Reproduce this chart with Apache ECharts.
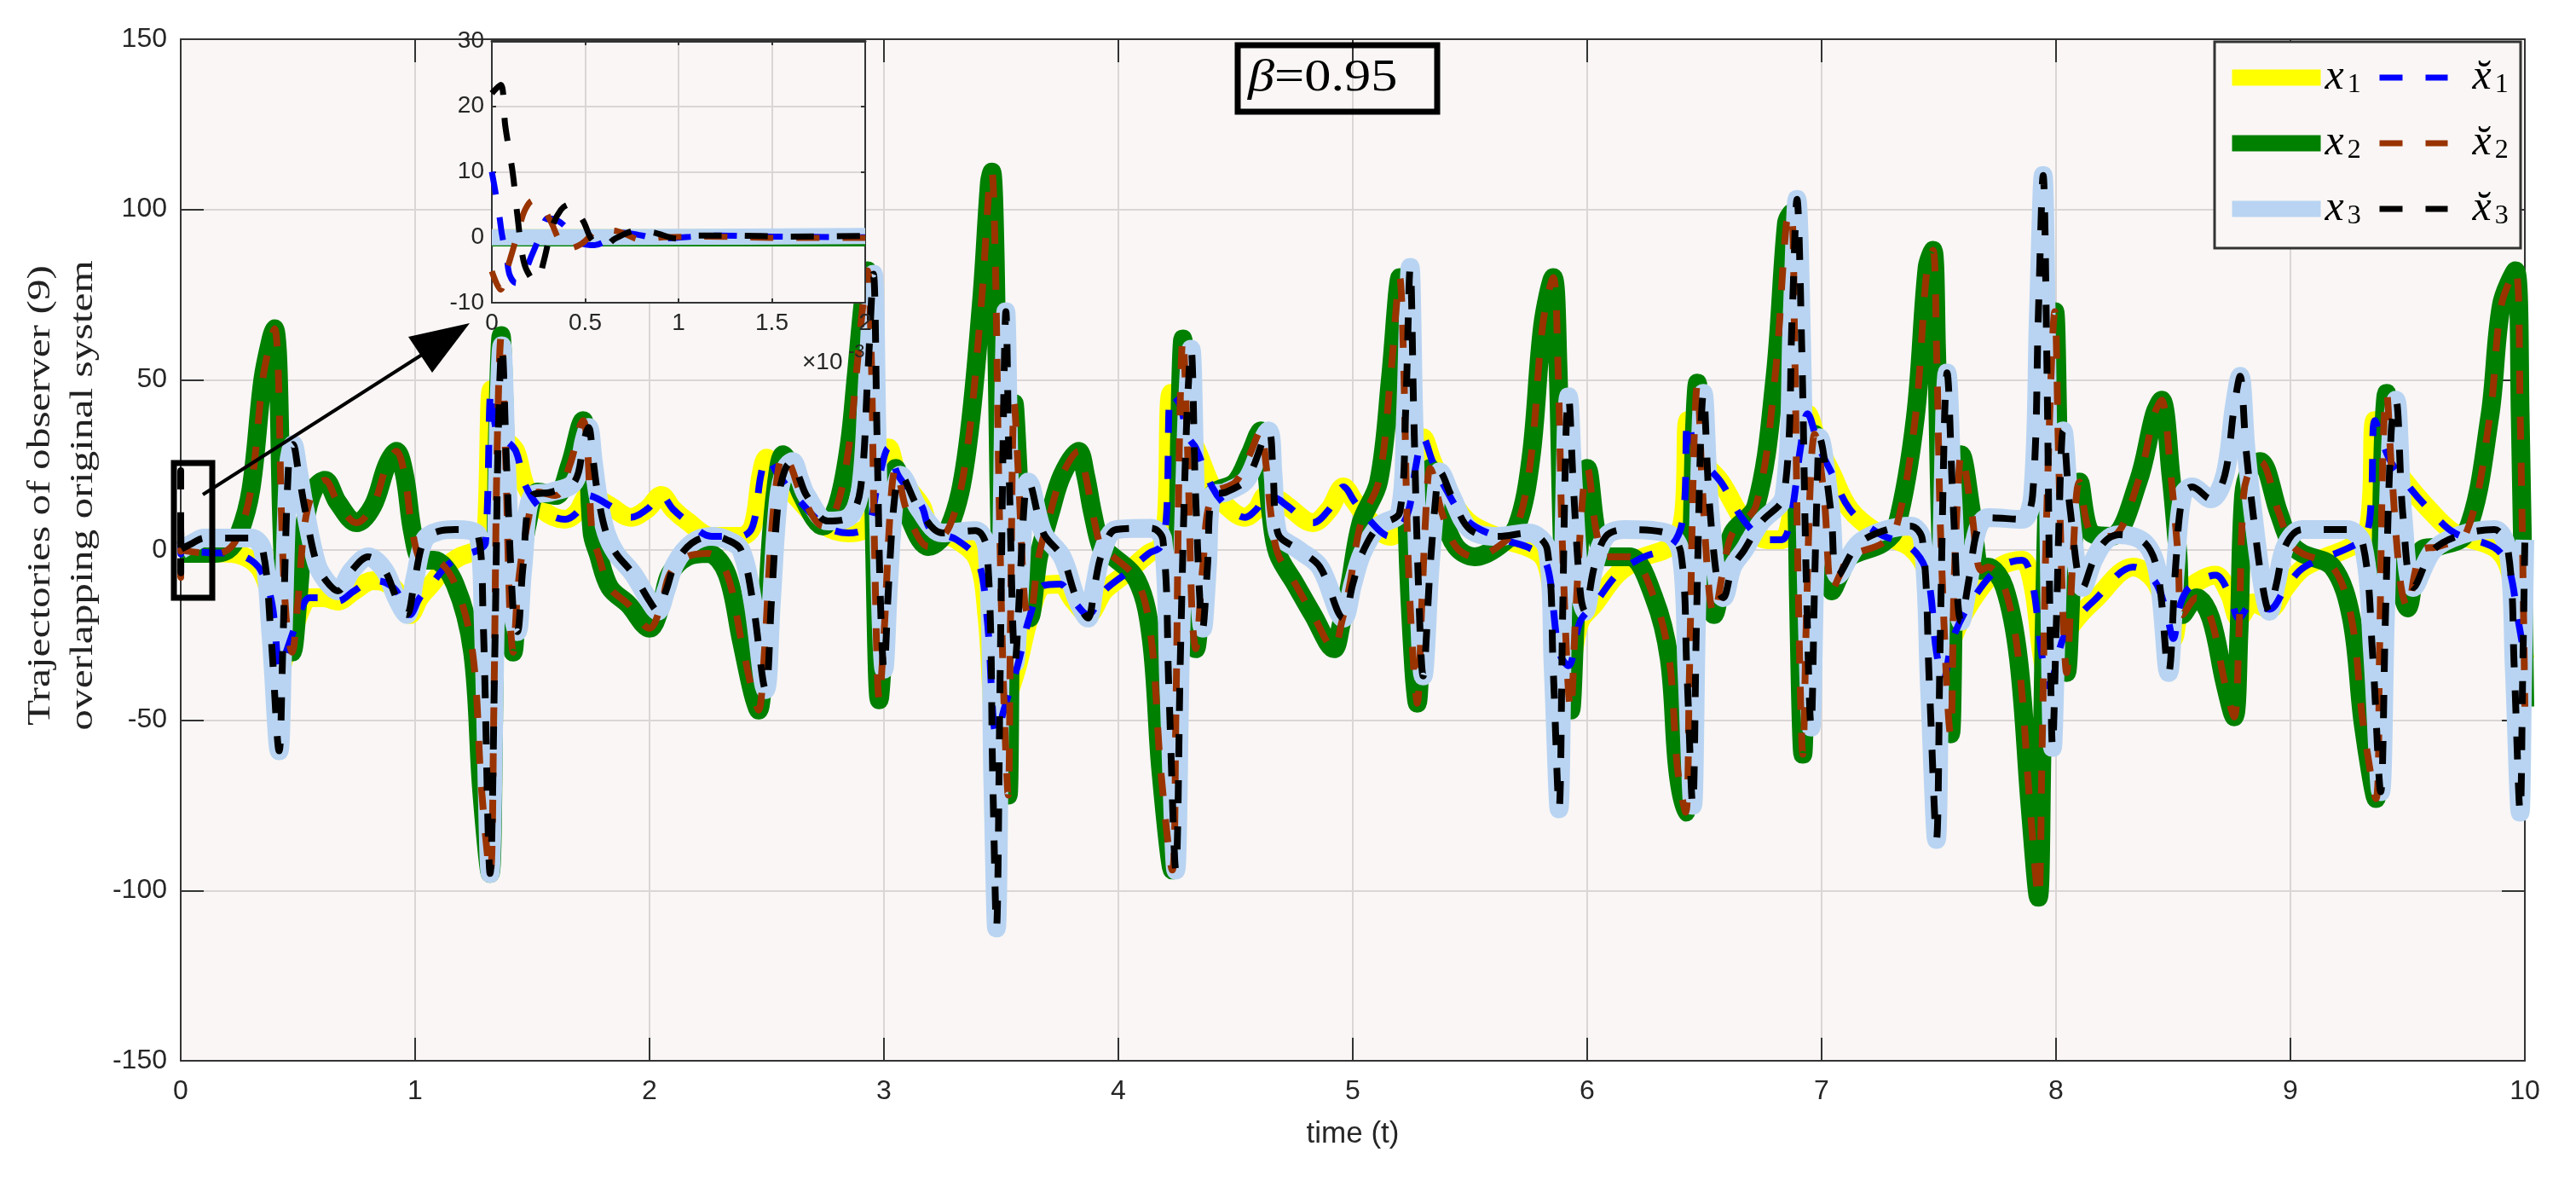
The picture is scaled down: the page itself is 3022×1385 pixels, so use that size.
<!DOCTYPE html>
<html>
<head>
<meta charset="UTF-8">
<title>Trajectories of observer</title>
<script src="https://cdn.jsdelivr.net/npm/echarts@6/dist/echarts.min.js"></script>
<style>
  html, body { margin: 0; padding: 0; background: #fff; }
  #main { width: 3022px; height: 1385px; }
</style>
</head>
<body>
<div id="main"></div>
<script>
// state trajectories, [t, value]
const x1 = [[0,-1],[.12,-.8],[.22,-1],[.3,-3],[.35,-7],[.39,-16],[.425,-35],[.45,-30],[.48,-24],[.51,-18],[.55,-14],[.61,-14],[.67,-15],[.74,-12],[.82,-9],[.87,-9.5],[.92,-12],[.977,-19],[1.02,-14],[1.07,-10],[1.13,-5],[1.19,-2],[1.27,0],[1.3,2],[1.325,47],[1.35,34],[1.39,32],[1.43,29],[1.47,19],[1.54,12],[1.64,9],[1.69,11],[1.74,16],[1.78,15],[1.83,13],[1.92,9.6],[1.99,12],[2.05,16],[2.1,12],[2.16,8.5],[2.265,4],[2.39,4],[2.44,7],[2.475,22],[2.5,27],[2.55,22],[2.62,16],[2.75,7],[2.85,5],[2.93,7],[2.975,20],[3.02,30],[3.06,22],[3.16,13],[3.2,6],[3.31,3],[3.4,-3],[3.44,-20],[3.48,-54],[3.52,-45],[3.57,-34],[3.62,-20],[3.68,-10.5],[3.75,-10],[3.81,-15],[3.87,-19],[3.94,-12],[4.03,-7],[4.13,-1],[4.18,1],[4.205,10],[4.225,46],[4.26,43],[4.3,33],[4.33,30],[4.4,18.5],[4.46,13],[4.54,9.6],[4.59,12],[4.63,16],[4.68,15],[4.72,13],[4.83,8],[4.9,12],[4.96,18.5],[5.01,14],[5.06,9.6],[5.16,4],[5.2,6],[5.24,12],[5.27,25],[5.3,33],[5.34,26],[5.38,20],[5.49,8.5],[5.65,3],[5.75,.7],[5.81,-2],[5.84,-8],[5.88,-30],[5.92,-34],[5.97,-21],[6.03,-16],[6.13,-7],[6.23,-2.4],[6.36,1.4],[6.41,10],[6.43,38],[6.47,28],[6.57,20],[6.67,8.5],[6.77,3],[6.83,3],[6.87,10],[6.91,30],[6.94,40],[6.99,30],[7.04,23],[7.12,12],[7.24,5],[7.38,.7],[7.45,-7],[7.49,-30],[7.52,-38],[7.56,-26],[7.64,-15],[7.76,-5],[7.855,-3],[7.9,-10],[7.94,-31],[7.97,-40],[8.03,-26],[8.09,-20],[8.16,-15],[8.33,-5],[8.42,-9],[8.47,-18],[8.5,-26],[8.53,-16],[8.57,-11],[8.68,-7.4],[8.74,-13],[8.78,-20],[8.84,-15.5],[8.91,-17.4],[8.98,-11],[9.06,-5],[9.25,.7],[9.32,4],[9.345,15],[9.36,38],[9.42,27],[9.49,20],[9.59,12],[9.7,5],[9.87,.7],[9.93,-5],[9.97,-20],[10,-32]]

const x2 = [[0,-1],[.12,-1],[.2,0],[.25,5],[.3,18],[.35,50],[.385,62],[.4,65],[.415,55],[.43,10],[.45,-20],[.475,-30],[.5,-15],[.53,8],[.57,18],[.615,20.5],[.67,14],[.75,8],[.82,13],[.88,25],[.92,29],[.955,22],[.99,5],[1.03,-3],[1.08,-3],[1.17,-10],[1.245,-30],[1.283,-70],[1.32,-95],[1.335,-50],[1.35,30],[1.367,63],[1.385,30],[1.405,-20],[1.418,-30],[1.44,-10],[1.48,8],[1.525,17],[1.6,16],[1.66,25],[1.717,38],[1.735,30],[1.755,5],[1.78,-1],[1.83,-11],[1.91,-16],[2,-23],[2.05,-16],[2.087,-7],[2.16,-2],[2.25,-1],[2.33,-7],[2.39,-26],[2.44,-42],[2.465,-47],[2.49,-30],[2.52,5],[2.55,24],[2.57,28],[2.6,25],[2.65,16],[2.74,7],[2.8,13],[2.85,30],[2.88,50],[2.91,72],[2.93,82],[2.945,60],[2.96,0],[2.98,-44],[3,-25],[3.03,15],[3.05,24],[3.1,11],[3.19,1],[3.28,7],[3.35,27],[3.415,72],[3.45,108],[3.46,111],[3.475,85],[3.49,20],[3.51,-40],[3.53,-72],[3.54,-20],[3.556,43],[3.575,20],[3.6,-15],[3.62,-20],[3.66,-2],[3.71,11],[3.76,22],[3.83,29],[3.86,22],[3.89,11],[3.93,0],[3.96,-1],[4.08,-9],[4.14,-26],[4.18,-64],[4.23,-94],[4.245,-50],[4.26,30],[4.275,62],[4.295,30],[4.315,-20],[4.33,-29],[4.36,-5],[4.4,16],[4.5,20],[4.56,28],[4.607,35],[4.63,25],[4.65,11],[4.68,-1],[4.755,-10],[4.83,-19],[4.92,-29],[4.95,-22],[4.985,-11],[5.035,8],[5.11,20],[5.16,50],[5.19,75],[5.2,80],[5.215,60],[5.235,0],[5.26,-35],[5.275,-45],[5.295,-15],[5.315,15],[5.33,24],[5.38,11],[5.44,1],[5.52,-2],[5.62,1],[5.7,7],[5.76,27],[5.81,66],[5.855,80],[5.875,55],[5.895,0],[5.93,-47],[5.95,-20],[5.98,15],[6,24],[6.04,5],[6.08,-2],[6.18,-2],[6.285,-14],[6.35,-32],[6.385,-64],[6.42,-77],[6.435,-40],[6.455,30],[6.47,49],[6.49,20],[6.52,-12],[6.54,-19],[6.58,-6],[6.62,5],[6.72,13],[6.8,50],[6.85,96],[6.87,99],[6.885,60],[6.9,-10],[6.92,-60],[6.935,-20],[6.955,25],[6.97,34],[7.01,16],[7.045,-12],[7.08,-7],[7.12,-2],[7.26,2],[7.32,7],[7.4,39],[7.45,83],[7.475,88],[7.49,60],[7.51,0],[7.55,-54],[7.565,-10],[7.585,22],[7.595,28],[7.64,11],[7.68,-6],[7.71,-5],[7.78,-11],[7.84,-32],[7.89,-76],[7.925,-102],[7.94,-60],[7.96,10],[7.995,70],[8.01,30],[8.03,-20],[8.045,-36],[8.07,-5],[8.1,20],[8.15,5],[8.235,4],[8.35,20],[8.42,40],[8.45,44],[8.49,22],[8.52,-1],[8.54,-19],[8.6,-14],[8.66,-20],[8.72,-39],[8.76,-49],[8.78,-25],[8.8,16],[8.83,24],[8.87,26],[8.95,11],[9,2],[9.05,-1],[9.18,-5],[9.26,-20],[9.31,-51],[9.365,-73],[9.38,-30],[9.395,30],[9.41,46],[9.43,25],[9.47,-10],[9.5,-17],[9.53,-7],[9.56,0],[9.63,1],[9.75,5],[9.85,39],[9.9,72],[9.96,82],[9.98,40],[10,-46]]

const x3 = [[0,0],[.05,2],[.1,3.5],[.3,3.5],[.35,0],[.385,-25],[.42,-59],[.435,-30],[.46,25],[.48,31],[.5,24],[.53,12],[.58,-4],[.62,-9],[.67,-12],[.73,-6],[.8,-2],[.87,-6],[.92,-14],[.964,-19],[1,-8],[1.04,3],[1.1,5.5],[1.17,6],[1.27,4],[1.29,-20],[1.32,-95],[1.34,-30],[1.355,35],[1.37,60],[1.39,25],[1.42,-20],[1.436,-24],[1.46,-5],[1.5,16],[1.58,17],[1.68,20],[1.72,32],[1.74,36],[1.76,26],[1.78,16],[1.815,5],[1.857,-1],[1.93,-7],[2,-15],[2.035,-18],[2.07,-12],[2.11,-4],[2.18,2],[2.265,4],[2.33,3],[2.39,0],[2.44,-15],[2.495,-41],[2.52,-15],[2.55,15],[2.58,24],[2.61,26],[2.64,21],[2.67,16],[2.76,8.5],[2.85,9.6],[2.9,18],[2.93,50],[2.955,81],[2.97,35],[2.985,-15],[3,-35],[3.02,-10],[3.045,15],[3.07,22],[3.15,12],[3.25,5],[3.39,5.7],[3.44,0],[3.465,-70],[3.48,-111],[3.495,-40],[3.51,40],[3.52,70],[3.535,20],[3.56,-33],[3.58,-10],[3.6,15],[3.615,20],[3.68,5],[3.76,-2],[3.82,-14],[3.87,-20],[3.9,-10],[3.93,-1],[3.99,6],[4.14,6.4],[4.19,3],[4.215,-40],[4.245,-94],[4.265,-30],[4.29,35],[4.31,59],[4.33,15],[4.36,-23],[4.38,-5],[4.4,16],[4.46,17],[4.55,21],[4.64,35],[4.66,22],[4.68,5],[4.77,0],[4.86,-5],[4.96,-20],[5,-10],[5.04,-1],[5.11,7],[5.2,11],[5.225,40],[5.245,83],[5.26,40],[5.28,-10],[5.3,-37],[5.33,-5],[5.36,20],[5.37,23],[5.42,16],[5.5,6],[5.62,4],[5.75,5],[5.83,0],[5.855,-35],[5.88,-76],[5.895,-20],[5.91,35],[5.92,45],[5.94,20],[5.97,-12],[5.99,-18],[6.03,-5],[6.08,4],[6.16,6],[6.34,5],[6.4,-1],[6.425,-35],[6.45,-75],[6.465,-25],[6.485,35],[6.495,46],[6.52,15],[6.56,-12],[6.58,-14],[6.62,-5],[6.67,0],[6.74,8],[6.84,16],[6.875,70],[6.895,103],[6.915,60],[6.935,-10],[6.955,-52],[6.97,-10],[6.985,28],[6.99,33],[7.04,11],[7.07,-7.4],[7.17,2.6],[7.38,7],[7.43,3],[7.46,-40],[7.49,-85],[7.505,-30],[7.525,40],[7.535,52],[7.56,15],[7.595,-21],[7.63,-8],[7.665,6],[7.71,9.5],[7.855,9],[7.9,16],[7.925,70],[7.945,110],[7.96,60],[7.975,-25],[7.985,-58],[8,-25],[8.02,25],[8.03,35],[8.06,12],[8.115,-11],[8.16,-3],[8.21,2.6],[8.27,4.5],[8.38,2],[8.435,-7],[8.48,-36],[8.51,-5],[8.54,16],[8.58,18.5],[8.66,15],[8.72,22],[8.76,42],[8.785,51],[8.81,30],[8.84,11],[8.88,-10],[8.91,-18],[8.94,-10],[8.98,1.4],[9.05,6],[9.24,6],[9.31,1.4],[9.35,-30],[9.385,-71],[9.405,-20],[9.43,35],[9.45,44],[9.48,10],[9.525,-11],[9.61,0],[9.73,4.5],[9.87,6],[9.93,-1],[9.955,-35],[9.98,-77],[9.99,-40],[10,3]]

// observer start-up transient, t in units of 1e-3
const hat1Start = [[0,10],[.02,6.8],[.04,3.3],[.055,.3],[.08,-3.2],[.096,-5.8],[.13,-7],[.17,-5.8],[.21,-3],[.26,.3],[.3,2.9],[.35,2.6],[.406,1.3],[.487,-1],[.55,-1.2],[.61,-.6],[.707,.7],[.8,.3],[.887,-.2],[1.2,.26],[1.5,.1],[2,0]]
const hat2Start = [[0,-5.2],[.047,-8],[.08,-5],[.112,-2],[.145,1.3],[.178,4.2],[.22,5.6],[.26,5],[.316,2.4],[.365,-.6],[.414,-1.7],[.48,-1],[.577,1.1],[.675,.9],[.805,-.4],[.92,0],[1.16,.1],[1.5,-.1],[2,-.1]]
const hat3Start = [[0,22],[.047,23.3],[.072,17],[.112,9.8],[.137,3.3],[.17,-3.6],[.21,-6.2],[.243,-6.7],[.275,-4],[.324,1.6],[.37,4.2],[.414,5],[.487,2.6],[.536,-.4],[.6,-1.5],[.66,-.2],[.79,1.1],[.87,.7],[1,-.2],[1.11,.26],[1.27,.26],[1.6,.1],[2,.2]]
const insetX1 = [[0,0],[2,0]]
const insetX2 = [[0,-.15],[2,-.15]]
const insetX3 = [[0,0],[1,.05],[2,.2]]

const yTicks = [-150,-100,-50,0,50,100,150]

const names = ['x1','x2','x3','xh1','xh2','xh3']
const colors = {x1:'#ffff00',x2:'#008000',x3:'#b9d4f2',xh1:'#0000ff',xh2:'#993300',xh3:'#000000'}

const textColor = '#262626'
const gridColor = '#d9d6d5'
const plotBg = '#f9f6f5'
const labelFont = 'Liberation Sans'
const mathFont = 'Liberation Serif'

// the observer overlaps the state once the transient has died out
function withStart(start, rest) {
	return start.map(p => [p[0] / 1000, p[1]]).concat(rest.slice(1))
}

function solid(name, data, width, extra) {
	return Object.assign({
		name: name, type: 'line', data: data, symbol: 'none', smooth: 0.35, clip: false,
		lineStyle: {color: colors[name], width: width, join: 'round', cap: 'butt'},
		itemStyle: {color: colors[name]}, animation: false, silent: true
	}, extra)
}
function dashed(name, data, width, extra) {
	return Object.assign({
		name: name, type: 'line', data: data, symbol: 'none', smooth: 0.35, clip: false,
		lineStyle: {color: colors[name], width: width, type: [27, 27], join: 'round', cap: 'butt'},
		itemStyle: {color: colors[name]}, animation: false, silent: true
	}, extra)
}

function axisCommon(show, margin) {
	return {
		axisLine: {show: true, onZero: false, lineStyle: {color: '#333', width: 2}},
		axisTick: {show: true, inside: true, length: 27, lineStyle: {color: '#333', width: 2}},
		axisLabel: {show: show, color: textColor, fontFamily: labelFont, fontSize: 32, margin: margin},
		splitLine: {show: false}
	}
}

const insetSeries = {xAxisIndex: 2, yAxisIndex: 2, z: 12, clip: true}

const legendRich = {
	v: {fontFamily: mathFont, fontStyle: 'italic', fontSize: 50, color: '#000', lineHeight: 50},
	s: {fontFamily: mathFont, fontSize: 32, color: '#000', verticalAlign: 'bottom', lineHeight: 28, padding: [0, 0, 0, 4]}
}

const option = {
	backgroundColor: '#fff',
	animation: false,
	grid: [
		{left: 212, top: 46, width: 2750, height: 1198, show: true, backgroundColor: plotBg, borderWidth: 0},
		{left: 577, top: 48, width: 438, height: 307, show: true, backgroundColor: plotBg, borderWidth: 0, z: 10}
	],
	xAxis: [
		Object.assign(axisCommon(true, 20), {
			type: 'value', gridIndex: 0, min: 0, max: 10, interval: 1, position: 'bottom',
			splitLine: {show: true, lineStyle: {color: gridColor, width: 2}}
		}),
		Object.assign(axisCommon(false, 0), {type: 'value', gridIndex: 0, min: 0, max: 10, interval: 1, position: 'top'}),
		{
			type: 'value', gridIndex: 1, min: 0, max: 2, interval: 0.5, position: 'bottom', z: 11,
			axisLine: {show: true, onZero: false, lineStyle: {color: '#333', width: 2}},
			axisTick: {show: true, inside: true, length: 5, lineStyle: {color: '#333', width: 2}},
			axisLabel: {color: textColor, fontFamily: labelFont, fontSize: 28, margin: 10},
			splitLine: {show: true, lineStyle: {color: gridColor, width: 2}}
		},
		{
			type: 'value', gridIndex: 1, min: 0, max: 2, interval: 0.5, position: 'top', z: 11,
			axisLine: {show: true, onZero: false, lineStyle: {color: '#333', width: 3}},
			axisTick: {show: true, inside: true, length: 5, lineStyle: {color: '#333', width: 2}},
			axisLabel: {show: false}, splitLine: {show: false}
		}
	],
	yAxis: [
		Object.assign(axisCommon(true, 16), {
			type: 'value', gridIndex: 0, min: yTicks[0], max: yTicks[yTicks.length - 1], interval: 50, position: 'left',
			splitLine: {show: true, lineStyle: {color: gridColor, width: 2}}
		}),
		Object.assign(axisCommon(false, 0), {type: 'value', gridIndex: 0, min: -150, max: 150, interval: 50, position: 'right'}),
		{
			type: 'value', gridIndex: 1, min: -10, max: 30, interval: 10, position: 'left', z: 11,
			axisLine: {show: true, onZero: false, lineStyle: {color: '#333', width: 2}},
			axisTick: {show: true, inside: true, length: 5, lineStyle: {color: '#333', width: 2}},
			axisLabel: {color: textColor, fontFamily: labelFont, fontSize: 28, margin: 9},
			splitLine: {show: true, lineStyle: {color: gridColor, width: 2}}
		},
		{
			type: 'value', gridIndex: 1, min: -10, max: 30, interval: 10, position: 'right', z: 11,
			axisLine: {show: true, onZero: false, lineStyle: {color: '#333', width: 2}},
			axisTick: {show: true, inside: true, length: 5, lineStyle: {color: '#333', width: 2}},
			axisLabel: {show: false}, splitLine: {show: false}
		}
	],
	legend: [
		{
			data: names.slice(0, 3), orient: 'vertical', left: 2609, top: 66, itemWidth: 104, itemHeight: 50, itemGap: 27, padding: 0,
			z: 15, selectedMode: false,
			itemStyle: {opacity: 0},
			lineStyle: {width: 19, cap: 'butt'},
			formatter: n => `{v|x}{s|${n[1]}}`,
			textStyle: {rich: legendRich}
		},
		{
			data: names.slice(3), orient: 'vertical', left: 2788, top: 66, itemWidth: 80, itemHeight: 50, itemGap: 27, padding: 0,
			z: 15, selectedMode: false,
			itemStyle: {opacity: 0},
			lineStyle: {width: 7, type: [27, 27], cap: 'butt'},
			formatter: n => `{g|}{v|x\u0306}{s|${n[2]}}`,
			textStyle: {rich: Object.assign({g: {width: 24}}, legendRich)}
		}
	],
	graphic: [
		// legend frame
		{type: 'rect', z: 14, silent: true, shape: {x: 2598, y: 49, width: 359, height: 242},
			style: {fill: plotBg, stroke: '#333', lineWidth: 3}},
		// beta box
		{type: 'rect', z: 14, silent: true, shape: {x: 1452, y: 53, width: 234, height: 78},
			style: {fill: 'transparent', stroke: '#000', lineWidth: 7}},
		{type: 'text', z: 15, silent: true, x: 1464, y: 92, scaleX: 1.2,
			style: {text: '{b|β}{t|=0.95}', verticalAlign: 'middle', rich: {
				b: {fontFamily: mathFont, fontStyle: 'italic', fontSize: 52, fill: '#000'},
				t: {fontFamily: mathFont, fontSize: 52, fill: '#000'}
			}}},
		// zoomed region marker and arrow
		{type: 'rect', z: 14, silent: true, shape: {x: 204, y: 543, width: 45, height: 158},
			style: {fill: 'transparent', stroke: '#000', lineWidth: 7}},
		{type: 'line', z: 14, silent: true, shape: {x1: 238, y1: 580, x2: 520, y2: 400},
			style: {stroke: '#000', lineWidth: 4}},
		{type: 'polygon', z: 14, silent: true, shape: {points: [[551, 379], [479, 395], [507, 437]]},
			style: {fill: '#000'}},
		// y axis title, two lines
		{type: 'text', z: 15, silent: true, x: 48, y: 581, rotation: Math.PI / 2, scaleX: 1.3,
			style: {text: 'Trajectories of observer (9)', fontFamily: mathFont, fontSize: 38, fill: '#222', align: 'center', verticalAlign: 'middle'}},
		{type: 'text', z: 15, silent: true, x: 98, y: 581, rotation: Math.PI / 2, scaleX: 1.3,
			style: {text: 'overlapping original system', fontFamily: mathFont, fontSize: 38, fill: '#222', align: 'center', verticalAlign: 'middle'}},
		// x axis title
		{type: 'text', z: 15, silent: true, x: 1587, y: 1330,
			style: {text: 'time (t)', fontFamily: labelFont, fontSize: 35, fill: textColor, align: 'center', verticalAlign: 'middle'}},
		// inset exponent
		{type: 'text', z: 15, silent: true, x: 941, y: 425,
			style: {text: '×10', fontFamily: labelFont, fontSize: 28, fill: textColor, verticalAlign: 'middle'}},
		{type: 'text', z: 15, silent: true, x: 995, y: 413,
			style: {text: '-3', fontFamily: labelFont, fontSize: 22, fill: textColor, verticalAlign: 'middle'}}
	],
	series: [
		solid('x1', x1, 22, {z: 2}),
		solid('x2', x2, 22, {z: 3}),
		solid('x3', x3, 22, {z: 4}),
		dashed('xh1', withStart(hat1Start, x1), 8, {z: 5}),
		dashed('xh2', withStart(hat2Start, x2), 8, {z: 6}),
		dashed('xh3', withStart(hat3Start, x3), 8, {z: 7}),
		solid('x1', insetX1, 19, insetSeries),
		solid('x2', insetX2, 19, insetSeries),
		solid('x3', insetX3, 19, insetSeries),
		dashed('xh1', hat1Start, 7, insetSeries),
		dashed('xh2', hat2Start, 7, insetSeries),
		dashed('xh3', hat3Start, 7, insetSeries)
	]
}

let mychart = echarts.init(document.getElementById('main'))
mychart.setOption(option)
</script>
</body>
</html>
